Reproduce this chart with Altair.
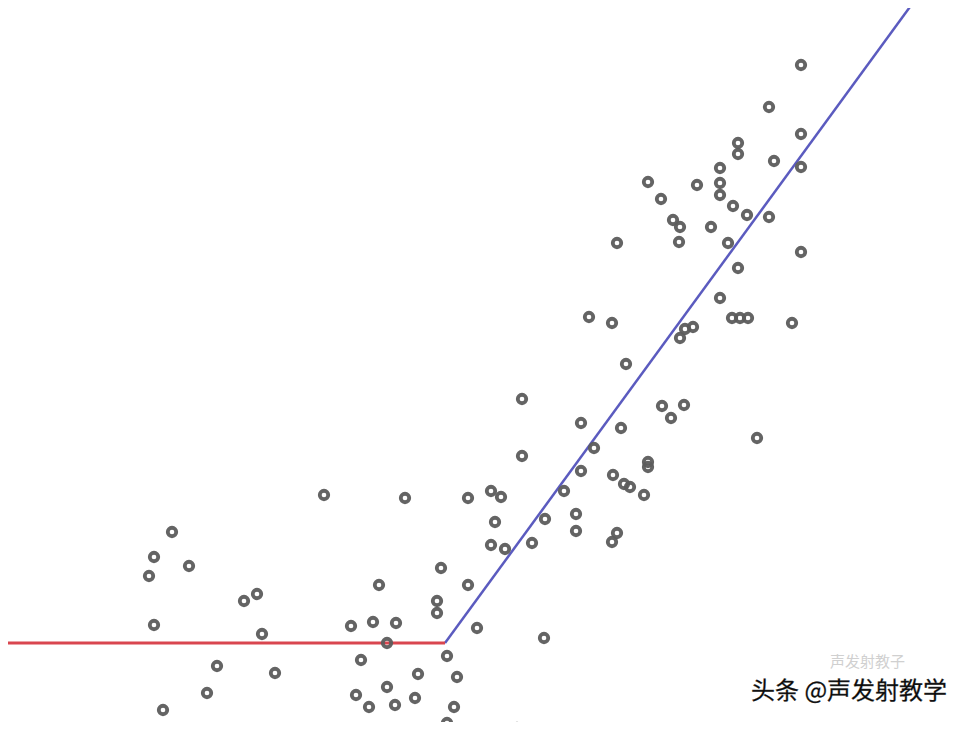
import altair as alt
import pandas as pd

# scatter points (pixel-like units, y grows downward)
px = [324, 405, 468, 172, 154, 149, 189, 244, 257, 154, 262, 379, 441, 468, 437, 437, 477,
      351, 373, 396, 387, 447, 361, 217, 275, 418, 457, 207, 387, 356, 369, 395, 415, 163,
      454, 447, 517, 522, 581, 621, 662, 671, 684, 522, 594, 581, 648, 648, 613, 624, 630,
      644, 564, 491, 501, 495, 545, 576, 576, 617, 612, 491, 505, 532, 544, 801, 769, 801,
      738, 738, 774, 801, 720, 720, 720, 697, 648, 661, 733, 747, 769, 673, 680, 711, 679,
      728, 617, 801, 738, 720, 589, 612, 732, 740, 748, 792, 680, 685, 693, 626, 757]
py = [495, 498, 498, 532, 557, 576, 566, 601, 594, 625, 634, 585, 568, 585, 601, 613, 628,
      626, 622, 623, 643, 656, 660, 666, 673, 674, 677, 693, 687, 695, 707, 705, 698, 710,
      707, 723, 728, 399, 423, 428, 406, 418, 405, 456, 448, 471, 462, 467, 475, 484, 487,
      495, 491, 491, 497, 522, 519, 514, 531, 533, 542, 545, 549, 543, 638, 65, 107, 134,
      143, 154, 161, 167, 168, 183, 195, 185, 182, 199, 206, 215, 217, 220, 227, 227, 242,
      243, 243, 252, 268, 298, 317, 323, 318, 318, 318, 323, 338, 329, 327, 364, 438]

# fitted piecewise model: flat segment then rising segment
red_x = [0, 445]
red_y = [643, 643]
blue_x = [445, 915]
blue_y = [643, 0]

watermark = ["头条 @声发射教学"]

pts = pd.DataFrame({"x": px, "y": py})
red = pd.DataFrame({"x": red_x, "y": red_y})
blue = pd.DataFrame({"x": blue_x, "y": blue_y})
wm = pd.DataFrame({"t": watermark})

xs = alt.Scale(domain=[8, 966], nice=False, zero=False)
ys = alt.Scale(domain=[8, 722], nice=False, zero=False, reverse=True)

X = lambda: alt.X("x:Q", scale=xs, axis=None)
Y = lambda: alt.Y("y:Q", scale=ys, axis=None)

red_line = alt.Chart(red).mark_line(color="#d9464f", strokeWidth=3, clip=True).encode(x=X(), y=Y())
blue_line = alt.Chart(blue).mark_line(color="#5b5bbf", strokeWidth=2.5, clip=True).encode(x=X(), y=Y())
points = alt.Chart(pts).mark_point(
    shape="circle", filled=False, size=72, strokeWidth=3.8, color="#5c5c5c", opacity=0.95, clip=True
).encode(x=X(), y=Y())

ghost = alt.Chart(wm).mark_text(
    text="声发射教子", font="Noto Sans CJK SC", fontSize=15, color="#d0d0d0",
    align="left", baseline="middle"
).encode(x=alt.value(822), y=alt.value(654))

text = alt.Chart(wm).mark_text(
    font="Noto Sans CJK SC", fontSize=24, color="#0a0a0a", align="left", baseline="middle",
    stroke="#333333", strokeWidth=0.3
).encode(x=alt.value(743), y=alt.value(684), text="t:N")

chart = alt.layer(blue_line, red_line, points, ghost, text).properties(
    width=958, height=714, padding=0, autosize=alt.AutoSizeParams(type="none"),
    background="white"
).configure_view(stroke=None)

chart.save("out.html", embed_options={"renderer": "svg", "actions": False})
